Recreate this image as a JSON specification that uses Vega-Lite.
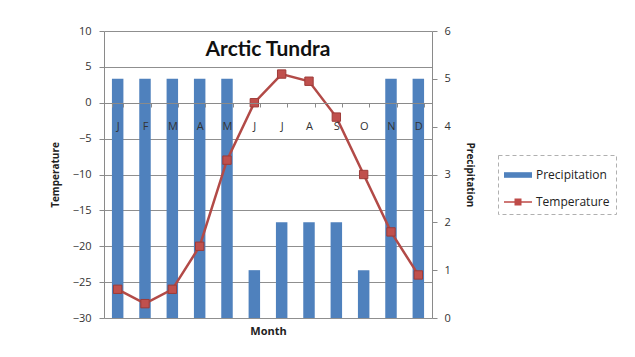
{
  "$schema": "https://vega.github.io/schema/vega-lite/v6.json",
  "width": 328,
  "height": 287,
  "autosize": {"type": "none"},
  "padding": {"left": 104, "top": 31, "right": 203, "bottom": 39},
  "background": "white",
  "config": {
    "view": {"stroke": null},
    "font": "Open Sans",
    "axis": {"labelFont": "Open Sans", "titleFont": "Open Sans", "domainColor": "#8a8a8a", "tickColor": "#8a8a8a", "labelColor": "#333333", "titleColor": "#222222"},
    "legend": {"strokeDash": [4, 3]}
  },
  "title": {
    "text": "Arctic Tundra",
    "anchor": "middle",
    "frame": "group",
    "font": "Lato",
    "fontSize": 21,
    "fontWeight": "bold",
    "color": "#111111",
    "baseline": "middle",
    "offset": -46
  },
  "data": {
    "values": [
      {"month": "Jan", "temp": -26, "precip": 5},
      {"month": "Feb", "temp": -28, "precip": 5},
      {"month": "Mar", "temp": -26, "precip": 5},
      {"month": "Apr", "temp": -20, "precip": 5},
      {"month": "May", "temp": -8, "precip": 5},
      {"month": "Jun", "temp": 0, "precip": 1},
      {"month": "Jul", "temp": 4, "precip": 2},
      {"month": "Aug", "temp": 3, "precip": 2},
      {"month": "Sep", "temp": -2, "precip": 2},
      {"month": "Oct", "temp": -10, "precip": 1},
      {"month": "Nov", "temp": -18, "precip": 5},
      {"month": "Dec", "temp": -24, "precip": 5}
    ]
  },
  "encoding": {
    "x": {
      "field": "month",
      "type": "nominal",
      "sort": null,
      "scale": {"paddingInner": 0.58, "paddingOuter": 0.29},
      "axis": {
        "orient": "bottom",
        "offset": -215,
        "zindex": 1,
        "labelExpr": "substring(datum.label, 0, 1)",
        "labelAngle": 0,
        "labelFontSize": 11,
        "labelPadding": 13,
        "labelBaseline": "top",
        "tickBand": "extent",
        "tickSize": 4,
        "grid": false,
        "title": "Month",
        "titleFontSize": 11,
        "titleFontWeight": "bold",
        "titleY": 228,
        "titleBaseline": "middle"
      }
    }
  },
  "layer": [
    {
      "mark": {"type": "bar"},
      "encoding": {
        "y": {
          "field": "precip",
          "type": "quantitative",
          "scale": {"domain": [0, 6], "nice": false},
          "axis": {
            "orient": "right",
            "values": [0, 1, 2, 3, 4, 5, 6],
            "grid": false,
            "tickSize": 5,
            "labelFontSize": 11,
            "labelPadding": 7,
            "title": "Precipitation",
            "titleFontSize": 10,
            "titleFontWeight": "bold",
            "titlePadding": 14
          }
        },
        "color": {
          "datum": "Precipitation",
          "type": "nominal",
          "scale": {"domain": ["Precipitation", "Temperature"], "range": ["#4F81BD", "#BE4B48"]},
          "legend": {
            "orient": "none",
            "legendX": 394,
            "legendY": 124,
            "title": null,
            "labelFont": "Open Sans",
            "labelFontSize": 12,
            "labelColor": "#222222",
            "symbolSize": 784,
            "symbolOpacity": 1,
            "symbolStrokeWidth": 0,
            "rowPadding": 7,
            "padding": 6,
            "strokeColor": "#b0b0b0"
          }
        }
      }
    },
    {
      "encoding": {
        "y": {
          "field": "temp",
          "type": "quantitative",
          "scale": {"domain": [-30, 10], "nice": false},
          "axis": {
            "orient": "left",
            "values": [-30, -25, -20, -15, -10, -5, 0, 5, 10],
            "grid": true,
            "gridColor": "#8f8f8f",
            "tickSize": 5,
            "labelFontSize": 11,
            "labelPadding": 8,
            "title": "Temperature",
            "titleFontSize": 10,
            "titleFontWeight": "bold",
            "titlePadding": 12
          }
        }
      },
      "layer": [
        {
          "mark": {"type": "line", "color": "#B24A47", "strokeWidth": 2.5}
        },
        {
          "mark": {"type": "point", "shape": "square", "filled": true, "size": 70, "fill": "#C0504D", "stroke": "#9E3B38", "strokeWidth": 1, "opacity": 1}
        },
        {
          "mark": {"type": "point", "filled": true, "opacity": 0},
          "encoding": {
            "color": {"datum": "Temperature", "type": "nominal"},
            "shape": {
              "datum": "Temperature",
              "type": "nominal",
              "scale": {
                "domain": ["Precipitation", "Temperature"],
                "range": ["M-1,-0.2H1V0.2H-1Z", "M-1,-0.06H-0.25V-0.25H0.25V-0.06H1V0.06H0.25V0.25H-0.25V0.06H-1Z"]
              }
            }
          }
        }
      ]
    }
  ],
  "resolve": {"scale": {"y": "independent"}}
}
